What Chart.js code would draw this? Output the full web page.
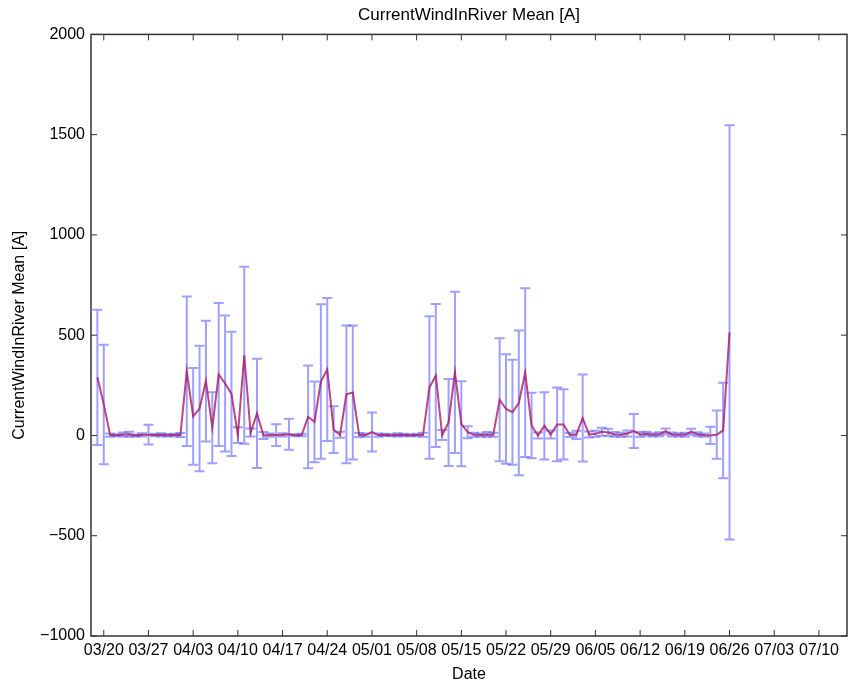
<!DOCTYPE html>
<html>
<head>
<meta charset="utf-8">
<script src="https://cdn.jsdelivr.net/npm/chart.js@4/dist/chart.umd.min.js"></script>
<style>
  body { margin: 0; background: #fff; }
  canvas { display: block; }
</style>
</head>
<body>
<canvas id="grafico" width="849" height="684"></canvas>
<script>
// daily values, first day is 03/19
const primeiroDia = '03/19';
const medias = [
  290, 155, 2, 1, 5, 6, 0, 3, 4, 2, 3, 1, 2, 2,
  320, 95, 134, 271, 39, 304, 259, 207, 2, 400, 15, 110, 0, 2, 2, 3, 6, 1, 2,
  93, 68, 269, 329, 29, 3, 205, 214, 2, 2, 17, 2, 3, 1, 3, 2, 1, 2, 3,
  239, 299, 2, 65, 315, 58, 16, 3, 2, 5, 4,
  178, 132, 116, 162, 313, 50, 0, 48, 5, 55, 55, 2, 3, 87, 5, 8, 18, 15, 5, 4, 10,
  22, 5, 8, 3, 6, 20, 5, 3, 4, 18, 6, 2, 0, 4, 25, 514
];
const desvios = [
  337, 298, 8, 5, 10, 12, 5, 8, 49, 6, 8, 6, 6, 10,
  373, 241, 313, 301, 177, 357, 339, 310, 39, 441, 20, 272, 17, 8, 54, 8, 77, 5, 6,
  256, 201, 385, 357, 117, 15, 343, 334, 10, 8, 97, 8, 6, 5, 8, 6, 5, 6, 10,
  355, 357, 25, 217, 402, 212, 30, 10, 8, 12, 10,
  307, 273, 262, 361, 421, 163, 15, 168, 20, 184, 175, 10, 20, 217, 15, 15, 20, 18, 12, 10, 15,
  85, 12, 10, 8, 10, 15, 10, 8, 10, 15, 10, 8, 43, 120, 238, 1033
];
const ticksX = ['03/20', '03/27', '04/03', '04/10', '04/17', '04/24', '05/01', '05/08',
  '05/15', '05/22', '05/29', '06/05', '06/12', '06/19', '06/26', '07/03', '07/10'];
const ticksY = [-1000, -500, 0, 500, 1000, 1500, 2000];

const fonte = "'Liberation Sans', Arial, Helvetica, sans-serif";

// day number counted from 03/20
function diaDoAno(texto) {
  const [m, d] = texto.split('/').map(Number);
  return Date.UTC(2001, m - 1, d) / 86400000;
}
const base = diaDoAno('03/20');
function paraDia(texto) { return diaDoAno(texto) - base; }
function paraTexto(dia) {
  const dt = new Date((base + dia) * 86400000);
  const mm = String(dt.getUTCMonth() + 1).padStart(2, '0');
  const dd = String(dt.getUTCDate()).padStart(2, '0');
  return mm + '/' + dd;
}

const inicio = paraDia(primeiroDia);
const pontos = medias.map((v, i) => ({ x: inicio + i, y: v }));

const barrasErro = {
  id: 'barrasErro',
  beforeDatasetsDraw(chart) {
    const { ctx, chartArea, scales } = chart;
    ctx.save();
    ctx.beginPath();
    ctx.rect(chartArea.left, chartArea.top, chartArea.width, chartArea.height);
    ctx.clip();
    ctx.strokeStyle = 'rgba(95,95,255,0.6)';
    ctx.lineWidth = 2;
    medias.forEach((m, i) => {
      const x = scales.x.getPixelForValue(inicio + i);
      const y1 = scales.y.getPixelForValue(m + desvios[i]);
      const y2 = scales.y.getPixelForValue(m - desvios[i]);
      ctx.beginPath();
      ctx.moveTo(x, y1); ctx.lineTo(x, y2);
      ctx.moveTo(x - 5, y1); ctx.lineTo(x + 5, y1);
      ctx.moveTo(x - 5, y2); ctx.lineTo(x + 5, y2);
      ctx.stroke();
    });
    ctx.restore();
  }
};

const moldura = {
  id: 'moldura',
  afterDraw(chart) {
    const { ctx, chartArea: a, scales } = chart;
    ctx.save();
    ctx.strokeStyle = '#333';
    ctx.lineWidth = 1.5;
    ctx.strokeRect(a.left, a.top, a.width, a.height);
    ctx.lineWidth = 1;
    ctx.beginPath();
    scales.x.ticks.forEach(t => {
      const x = scales.x.getPixelForValue(t.value);
      ctx.moveTo(x, a.bottom); ctx.lineTo(x, a.bottom - 6);
      ctx.moveTo(x, a.top); ctx.lineTo(x, a.top + 6);
    });
    scales.y.ticks.forEach(t => {
      const y = scales.y.getPixelForValue(t.value);
      ctx.moveTo(a.left, y); ctx.lineTo(a.left + 6, y);
      ctx.moveTo(a.right, y); ctx.lineTo(a.right - 6, y);
    });
    ctx.stroke();
    ctx.restore();
  }
};

new Chart(document.getElementById('grafico'), {
  type: 'line',
  data: {
    datasets: [{
      label: 'CurrentWindInRiver Mean [A]',
      data: pontos,
      borderColor: 'rgba(170,25,100,0.8)',
      borderWidth: 2,
      pointRadius: 0,
      tension: 0,
      fill: false
    }]
  },
  options: {
    responsive: false,
    animation: false,
    layout: { padding: { left: 0, right: 2, top: 0, bottom: 0 } },
    plugins: {
      legend: { display: false },
      tooltip: { enabled: false },
      title: {
        display: true,
        fullSize: false,
        text: 'CurrentWindInRiver Mean [A]',
        color: '#000',
        font: { family: fonte, size: 17, weight: 'normal' },
        padding: { top: 5, bottom: 9 }
      }
    },
    scales: {
      x: {
        type: 'linear',
        min: -2,
        max: 116.4,
        afterBuildTicks: s => { s.ticks = ticksX.map(t => ({ value: paraDia(t) })); },
        afterFit: s => { s.height = 48; },
        grid: { display: false, drawTicks: false },
        border: { display: false },
        ticks: {
          callback: v => paraTexto(v),
          color: '#000',
          font: { family: fonte, size: 16 },
          padding: 5,
          maxRotation: 0,
          autoSkip: false
        },
        title: {
          display: true,
          text: 'Date',
          color: '#000',
          font: { family: fonte, size: 16 },
          padding: { top: 1, bottom: 0 }
        }
      },
      y: {
        min: -1000,
        max: 2000,
        afterBuildTicks: s => { s.ticks = ticksY.map(v => ({ value: v })); },
        afterFit: s => { s.width = 91; },
        grid: { display: false, drawTicks: false },
        border: { display: false },
        ticks: {
          callback: v => v < 0 ? '\u2212' + Math.abs(v) : String(v),
          color: '#000',
          font: { family: fonte, size: 16 },
          padding: 6
        },
        title: {
          display: true,
          text: 'CurrentWindInRiver Mean [A]',
          color: '#000',
          font: { family: fonte, size: 16 },
          padding: { top: 10, bottom: 2 }
        }
      }
    }
  },
  plugins: [barrasErro, moldura]
});
</script>
</body>
</html>
